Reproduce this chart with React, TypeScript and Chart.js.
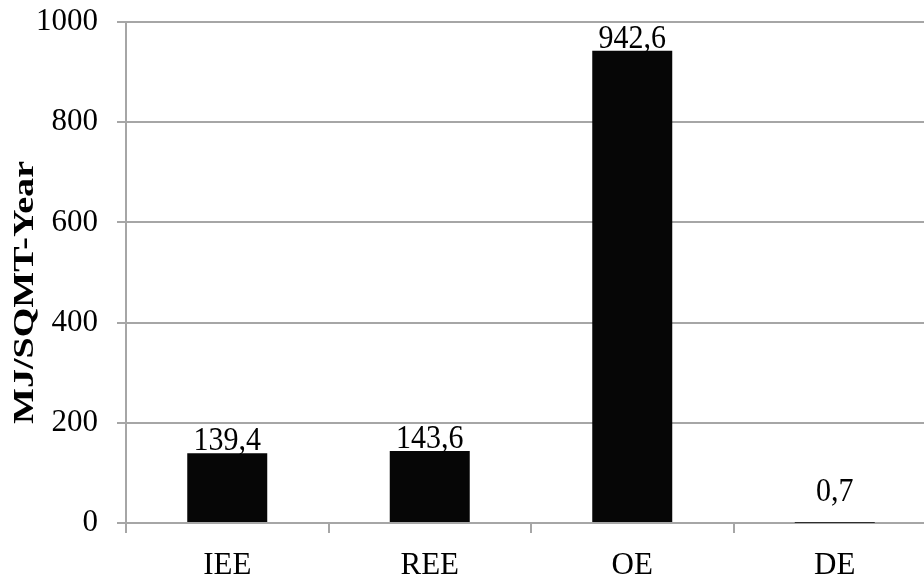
import React, { useEffect, useRef } from "react";
import { Chart, registerables } from "chart.js";

Chart.register(...registerables);

const categories = ["IEE", "REE", "OE", "DE"];
const values = [139.4, 143.6, 942.6, 0.7];
const yTicksMin = 0;
const yTicksMax = 1000;
const yTickStep = 200;
const yTitle = "MJ/SQMT-Year";

const FONT = "'Liberation Serif', 'Times New Roman', serif";
const GRID = "#a6a6a6";

const labelPlugin = {
  id: "valueLabels",
  afterDatasetsDraw(chart: any) {
    const ctx = chart.ctx;
    const meta = chart.getDatasetMeta(0);
    meta.data.forEach((el: any, i: number) => {
      const txt = String(values[i]).replace(".", ",");
      const y = Math.min(el.y - 3, el.base - 21);
      ctx.save();
      ctx.translate(el.x, y);
      ctx.scale(1, 1.12);
      ctx.font = `30px ${FONT}`;
      ctx.fillStyle = "#000";
      ctx.textAlign = "center";
      ctx.textBaseline = "alphabetic";
      ctx.fillText(txt, 0, 0);
      ctx.restore();
    });
  },
};

const titlePlugin = {
  id: "yTitle",
  afterDraw(chart: any) {
    const ctx = chart.ctx;
    const area = chart.chartArea;
    ctx.save();
    ctx.translate(33, (area.top + area.bottom) / 2 + 20);
    ctx.rotate(-Math.PI / 2);
    ctx.scale(1.27, 1);
    ctx.font = `bold 30px ${FONT}`;
    ctx.fillStyle = "#000";
    ctx.textAlign = "center";
    ctx.textBaseline = "alphabetic";
    ctx.fillText(yTitle, 0, 0);
    ctx.restore();
  },
};

export default function App() {
  const ref = useRef<HTMLCanvasElement>(null);
  useEffect(() => {
    const canvas = ref.current!;
    const chart = new Chart(canvas, {
      type: "bar",
      data: {
        labels: categories,
        datasets: [
          {
            data: values,
            backgroundColor: "#060606",
            borderWidth: 0,
            categoryPercentage: 1,
            barPercentage: 0.395,
          },
        ],
      },
      options: {
        responsive: false,
        animation: false,
        devicePixelRatio: 1,
        layout: { padding: { top: 22, right: 4, left: 0, bottom: 0 } },
        plugins: { legend: { display: false }, tooltip: { enabled: false }, title: { display: false } },
        scales: {
          x: {
            afterFit(scale: any) {
              scale.height = 97;
              scale.paddingLeft = 0;
              scale.paddingRight = 0;
            },
            grid: {
              display: true,
              drawOnChartArea: false,
              drawTicks: true,
              tickLength: 10,
              color: GRID,
              lineWidth: 2,
              offset: true,
            },
            border: { display: true, color: GRID, width: 2 },
            ticks: {
              color: "#000",
              font: { family: FONT, size: 31 },
              padding: 14,
              maxRotation: 0,
            },
          },
          y: {
            min: yTicksMin,
            max: yTicksMax,
            afterFit(scale: any) {
              scale.width = 126;
              scale.paddingTop = 0;
              scale.paddingBottom = 0;
            },
            grid: {
              color: GRID,
              lineWidth: 2,
              tickLength: 9,
              drawTicks: true,
            },
            border: { display: true, color: GRID, width: 2 },
            ticks: {
              stepSize: yTickStep,
              color: "#000",
              font: { family: FONT, size: 31 },
              padding: 19,
              callback: (v: any) => String(v),
            },
            title: { display: false },
          },
        },
      },
      plugins: [labelPlugin, titlePlugin],
    });
    return () => chart.destroy();
  }, []);
  return (
    <div
      style={{
        position: "absolute",
        left: 0,
        top: 0,
        width: 924,
        height: 578,
        overflow: "hidden",
        background: "#fff",
      }}
    >
      <canvas ref={ref} width={940} height={620} style={{ display: "block" }} />
    </div>
  );
}
